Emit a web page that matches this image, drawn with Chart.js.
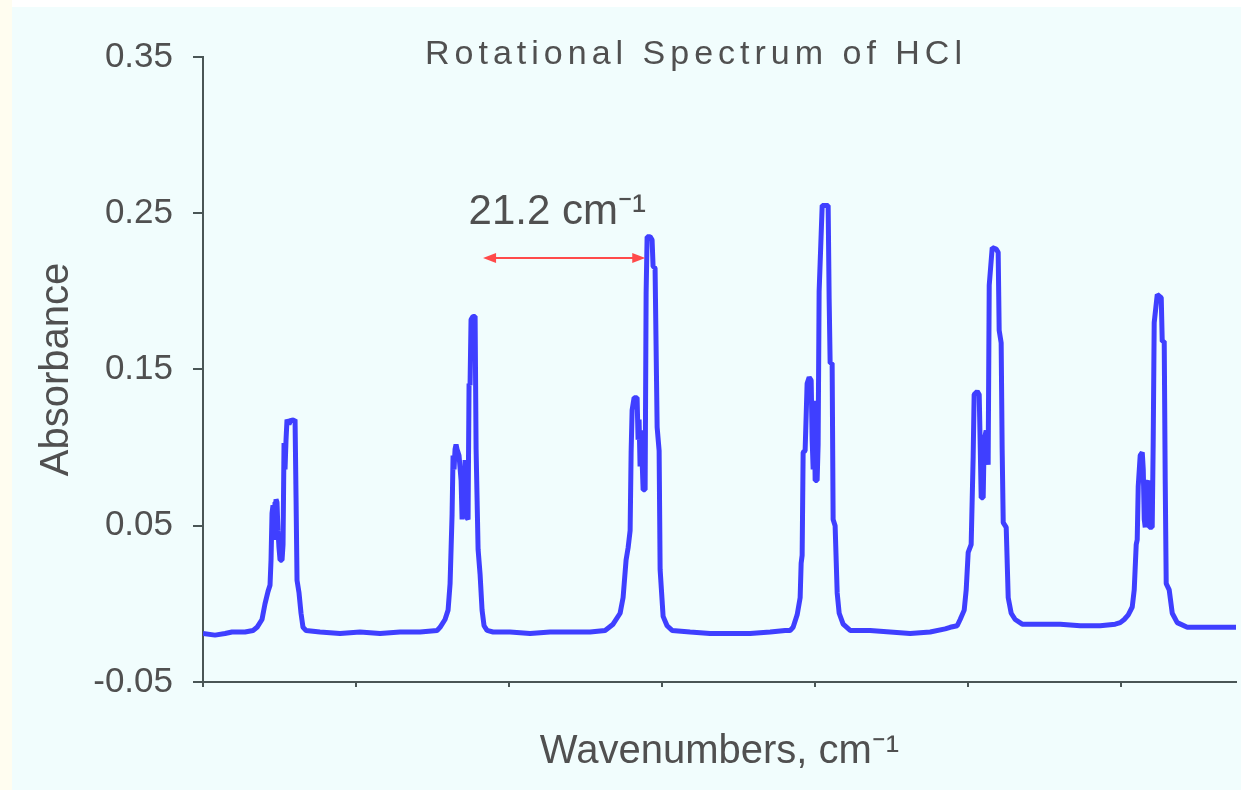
<!DOCTYPE html>
<html>
<head>
<meta charset="utf-8">
<title>Rotational Spectrum of HCl</title>
<script src="https://cdn.jsdelivr.net/npm/chart.js@4.4.1/dist/chart.umd.min.js"></script>
<style>
  html, body { margin: 0; padding: 0; background: #ffffff; }
  #edge { position: absolute; left: 0; top: 0; width: 12px; height: 790px; background: #fffdf0; }
  #frame { position: absolute; left: 12px; top: 7px; width: 1229px; height: 783px; background: #f1fdfd; }
  canvas { display: block; }
</style>
</head>
<body>
<div id="edge"></div>
<div id="frame"><canvas id="spectrum" width="1229" height="783"></canvas></div>
<script>
// HCl far-IR rotational lines, absorbance vs wavenumber (cm-1)
const wavenumbers = [
  0.00, 1.57, 2.88, 3.79, 5.49, 6.54,
  7.06, 7.71, 8.10, 8.50, 8.76, 8.89, 9.02, 9.15, 9.28, 9.41, 9.54, 9.67, 9.80, 9.93,
  10.07, 10.33, 10.46, 10.59, 10.72, 10.85, 10.98, 11.24, 11.50, 11.76, 12.03, 12.16,
  12.29, 12.55, 12.81, 13.07, 13.46,
  15.29, 17.91, 20.52, 23.14, 25.75, 28.37, 30.59,
  30.98, 31.63, 32.03, 32.29, 32.55, 32.68, 32.81, 32.94, 33.07, 33.20, 33.46, 33.73,
  33.86, 33.99, 34.12, 34.25, 34.51, 34.64, 34.77, 34.90, 35.03, 35.29, 35.56, 35.69,
  35.95, 36.21, 36.47, 36.73, 37.12, 37.91,
  40.13, 42.75, 45.36, 47.97, 50.59, 52.55,
  53.59, 54.51, 54.90, 55.29, 55.56, 55.82, 55.95, 56.08, 56.34, 56.73, 56.86, 56.99,
  57.12, 57.25, 57.52, 57.78, 57.91, 58.04, 58.43, 58.69, 58.82, 59.08, 59.35, 59.61,
  59.74, 60.13, 60.65, 61.31,
  63.66, 66.27, 68.89, 71.50, 74.12, 76.08,
  76.73, 77.12, 77.65, 78.04, 78.17, 78.30, 78.43, 78.69, 78.95, 79.22, 79.48, 79.61,
  79.74, 79.87, 80.00, 80.26, 80.39, 80.52, 80.92, 81.70, 81.83, 81.96, 82.22, 82.35,
  82.61, 82.88, 83.14, 83.66, 84.58,
  87.19, 89.80, 92.42, 95.03, 96.99,
  97.65, 98.56, 98.95, 99.48, 99.74, 100.00, 100.39, 100.65, 100.78, 101.18, 101.44,
  101.57, 101.70, 101.96, 102.09, 102.35, 102.48, 102.61, 102.75, 103.14, 103.66,
  103.92, 104.05, 104.31, 104.44, 104.58, 104.97, 105.23, 105.62, 106.14, 107.06,
  109.41, 112.03, 114.64, 117.25, 119.22,
  119.87, 120.39, 120.92, 121.44, 121.70, 121.96, 122.09, 122.22, 122.48, 122.75,
  122.88, 123.01, 123.14, 123.27, 123.53, 123.66, 124.05, 124.18, 124.31, 124.71,
  125.23, 125.36, 125.62, 125.75, 125.88, 126.27, 126.67, 127.32, 128.63,
  130.33, 132.94, 135.00
];
const absorbance = [
  -0.019, -0.020, -0.019, -0.018, -0.018, -0.017,
  -0.015, -0.010, 0.000, 0.008, 0.012, 0.028, 0.058, 0.063, 0.041, 0.065, 0.067, 0.065, 0.047, 0.036,
  0.028, 0.028, 0.038, 0.103, 0.086, 0.105, 0.118, 0.115, 0.118, 0.117, 0.118, 0.068,
  0.015, 0.007, -0.006, -0.015, -0.017,
  -0.018, -0.019, -0.018, -0.019, -0.018, -0.018, -0.017,
  -0.015, -0.010, -0.004, 0.013, 0.057, 0.095, 0.086, 0.099, 0.102, 0.099, 0.095, 0.079,
  0.054, 0.086, 0.062, 0.092, 0.055, 0.054, 0.141, 0.140, 0.182, 0.184, 0.184, 0.099,
  0.035, 0.019, -0.004, -0.014, -0.017, -0.018,
  -0.018, -0.019, -0.018, -0.018, -0.018, -0.017,
  -0.013, -0.006, 0.004, 0.028, 0.036, 0.047, 0.097, 0.124, 0.132, 0.132, 0.105, 0.118,
  0.088, 0.111, 0.073, 0.073, 0.199, 0.235, 0.235, 0.233, 0.216, 0.215, 0.113, 0.098,
  0.022, -0.008, -0.014, -0.017,
  -0.018, -0.019, -0.019, -0.019, -0.018, -0.017,
  -0.017, -0.015, -0.007, 0.004, 0.026, 0.031, 0.097, 0.098, 0.141, 0.145, 0.143, 0.105,
  0.086, 0.130, 0.079, 0.079, 0.102, 0.200, 0.255, 0.255, 0.195, 0.154, 0.154, 0.054,
  0.050, 0.007, -0.006, -0.013, -0.017,
  -0.017, -0.018, -0.019, -0.018, -0.016,
  -0.015, -0.014, -0.010, -0.004, 0.009, 0.033, 0.038, 0.094, 0.134, 0.136, 0.134,
  0.102, 0.068, 0.068, 0.105, 0.111, 0.095, 0.089, 0.204, 0.228, 0.227,
  0.225, 0.175, 0.167, 0.099, 0.052, 0.049, 0.004, -0.006, -0.010, -0.013,
  -0.013, -0.013, -0.014, -0.014, -0.013,
  -0.012, -0.010, -0.007, -0.002, 0.009, 0.038, 0.041, 0.075, 0.095, 0.097,
  0.086, 0.054, 0.049, 0.076, 0.079, 0.049, 0.049, 0.104, 0.180, 0.198,
  0.196, 0.168, 0.168, 0.079, 0.013, 0.009, -0.006, -0.012, -0.015,
  -0.015, -0.015, -0.015
];

const xTicks = [0, 20, 40, 60, 80, 100, 120];
const yTicks = [-0.05, 0.05, 0.15, 0.25, 0.35];

// spacing marker between neighbouring lines
const lineSpacing = 21.2;
const arrowFrom = 36.6;
const arrowLevel = 0.2214;
const spacingLabelX = 46.3;
const spacingLabelY = 0.2508;

const chartTitle = 'Rotational Spectrum of HCl';
const textColor = '#505050';
const axisColor = '#4a5656';
const fontFamily = '"Liberation Sans", Arial, sans-serif';

Chart.defaults.font.family = fontFamily;

// red double-headed arrow with its label
const spacingArrow = {
  id: 'spacingArrow',
  afterDatasetsDraw(chart) {
    const { ctx, scales: { x, y } } = chart;
    const x0 = x.getPixelForValue(arrowFrom);
    const x1 = x.getPixelForValue(arrowFrom + lineSpacing);
    const yy = y.getPixelForValue(arrowLevel);
    ctx.save();
    ctx.strokeStyle = '#ff4a4a';
    ctx.fillStyle = '#ff4a4a';
    ctx.lineWidth = 2;
    ctx.beginPath();
    ctx.moveTo(x0 + 4, yy);
    ctx.lineTo(x1 - 4, yy);
    ctx.stroke();
    [[x0, 1], [x1, -1]].forEach(([px, dir]) => {
      ctx.beginPath();
      ctx.moveTo(px, yy);
      ctx.lineTo(px + dir * 13, yy - 5);
      ctx.lineTo(px + dir * 13, yy + 5);
      ctx.closePath();
      ctx.fill();
    });
    ctx.font = '42px ' + fontFamily;
    ctx.fillStyle = textColor;
    ctx.textAlign = 'center';
    ctx.textBaseline = 'middle';
    ctx.fillText(lineSpacing + ' cm\u207B\u00B9', x.getPixelForValue(spacingLabelX), y.getPixelForValue(spacingLabelY));
    ctx.restore();
  }
};

// title sits inside the plot, letter-spaced
const spacedTitle = {
  id: 'spacedTitle',
  afterDraw(chart) {
    const { ctx, chartArea } = chart;
    ctx.save();
    ctx.font = '34px ' + fontFamily;
    ctx.fillStyle = textColor;
    ctx.textAlign = 'center';
    ctx.textBaseline = 'middle';
    ctx.letterSpacing = '5px';
    ctx.fillText(chartTitle, chartArea.left + 493, chartArea.top - 2);
    ctx.restore();
  }
};

const spectrumCtx = document.getElementById('spectrum');
window.spectrumChart = new Chart(spectrumCtx, {
  type: 'line',
  data: {
    datasets: [{
      data: wavenumbers.map((w, i) => ({ x: w, y: absorbance[i] })),
      borderColor: '#3f3fff',
      borderWidth: 5,
      borderJoinStyle: 'bevel',
      pointRadius: 0,
      tension: 0
    }]
  },
  options: {
    responsive: false,
    animation: false,
    layout: { padding: { top: 50, right: 5, bottom: 0, left: 0 } },
    plugins: {
      legend: { display: false },
      tooltip: { enabled: false },
      title: { display: false }
    },
    scales: {
      x: {
        type: 'linear',
        min: 0,
        max: 135,
        afterBuildTicks: scale => { scale.ticks = xTicks.map(v => ({ value: v })); },
        afterFit: scale => { scale.height = 108; },
        ticks: { display: false },
        grid: { drawOnChartArea: false, tickLength: 5, color: axisColor, lineWidth: 2 },
        border: { color: axisColor, width: 2 },
        title: {
          display: true,
          text: 'Wavenumbers, cm\u207B\u00B9',
          color: textColor,
          font: { size: 40 },
          padding: { top: 0, bottom: 14 }
        }
      },
      y: {
        type: 'linear',
        min: -0.05,
        max: 0.35,
        afterBuildTicks: scale => { scale.ticks = yTicks.map(v => ({ value: v })); },
        afterFit: scale => { scale.width = 191; },
        ticks: {
          callback: v => v.toFixed(2),
          color: textColor,
          font: { size: 35 },
          padding: 20
        },
        grid: { drawOnChartArea: false, tickLength: 10, color: axisColor, lineWidth: 2 },
        border: { color: axisColor, width: 2 },
        title: {
          display: true,
          text: 'Absorbance',
          color: textColor,
          font: { size: 40 },
          padding: { top: 21, bottom: 0 }
        }
      }
    }
  },
  plugins: [spacingArrow, spacedTitle]
});
</script>
</body>
</html>
